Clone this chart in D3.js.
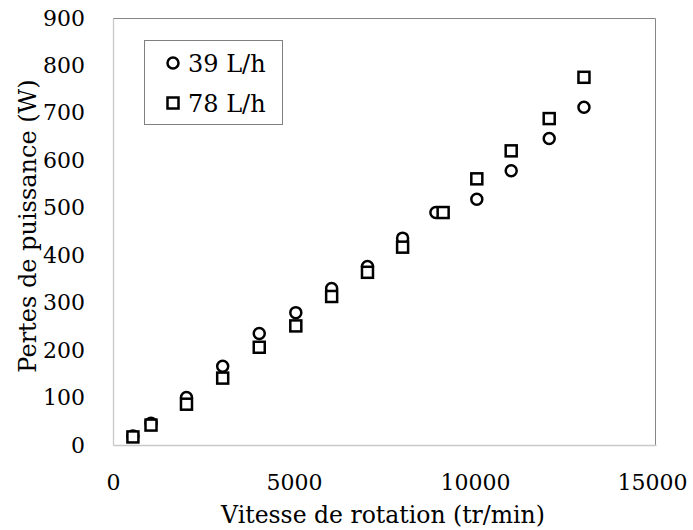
<!DOCTYPE html>
<html lang="fr">
  <head>
    <meta charset="utf-8">
    <script src="https://cdn.jsdelivr.net/npm/d3@7"></script>
    <style>
      body { margin: 0; background: #fff; }
      text { font-family: "DejaVu Serif", serif; fill: #000; }
    </style>
  </head>
  <body>
  <script>
    // valeurs
    var vitesse39 = [550, 1050, 2030, 3030, 4040, 5050, 6040, 7030, 8000, 8920, 10050, 11000, 12050, 13010];
    var pertes39  = [19, 46, 100, 166, 235, 279, 330, 376, 436, 490, 518, 578, 646, 712];
    var vitesse78 = [550, 1050, 2030, 3030, 4040, 5050, 6040, 7030, 8000, 9120, 10050, 11000, 12050, 13010];
    var pertes78  = [17, 42, 86, 141, 206, 251, 313, 364, 417, 490, 561, 620, 688, 775];
    var xTicks = [0, 5000, 10000, 15000];
    var yTicks = [0, 100, 200, 300, 400, 500, 600, 700, 800, 900];
    var seriesNames = ["39 L/h", "78 L/h"];

    var W = 693, H = 530;
    var margin = {top: 18, right: 37, bottom: 85, left: 113};
    var width = W - margin.left - margin.right,
        height = H - margin.top - margin.bottom;

    var svg = d3.select("body").append("svg")
      .attr("width", W).attr("height", H);
    var g = svg.append("g")
      .attr("transform", "translate(" + margin.left + "," + margin.top + ")");

    var x = d3.scaleLinear().domain([0, 15000]).range([0, width]);
    var y = d3.scaleLinear().domain([0, 900]).range([height, 0]);

    // cadre (haut et droite)
    g.append("path")
      .attr("d", "M0,0.5H" + (width - 0.5) + "V" + height)
      .attr("fill", "none").attr("stroke", "#868686").attr("stroke-width", 1);

    var xAxis = g.append("g")
      .attr("transform", "translate(0," + height + ")")
      .call(d3.axisBottom(x).tickValues(xTicks).tickSize(0).tickPadding(29).tickFormat(d3.format("d")));
    var yAxis = g.append("g")
      .call(d3.axisLeft(y).tickValues(yTicks).tickSize(0).tickPadding(28));

    [xAxis, yAxis].forEach(function(a){
      a.select(".domain").attr("stroke", "#c8c8c8").attr("stroke-width", 1.3);
      a.selectAll("text").style("font-size", "22px").attr("fill", "#000")
        .style("font-family", "'DejaVu Serif', serif");
    });
    xAxis.selectAll(".tick").filter(function(d){ return d == 15000; })
      .select("text").attr("dx", -4);

    // points 39 L/h
    g.append("g").selectAll("circle")
      .data(vitesse39).enter().append("circle")
      .attr("cx", function(d){ return x(d); })
      .attr("cy", function(d, i){ return y(pertes39[i]); })
      .attr("r", 5.5)
      .attr("fill", "none").attr("stroke", "#000").attr("stroke-width", 2.5);

    // points 78 L/h
    var s = 11;
    g.append("g").selectAll("rect")
      .data(vitesse78).enter().append("rect")
      .attr("x", function(d){ return x(d) - s/2; })
      .attr("y", function(d, i){ return y(pertes78[i]) - s/2; })
      .attr("width", s).attr("height", s)
      .attr("fill", "#fff").attr("stroke", "#000").attr("stroke-width", 2.5);

    // légende
    var leg = svg.append("g");
    leg.append("rect").attr("x", 144.5).attr("y", 40.5).attr("width", 138).attr("height", 84)
      .attr("fill", "#fff").attr("stroke", "#7f7f7f").attr("stroke-width", 1);
    leg.append("circle").attr("cx", 173).attr("cy", 63).attr("r", 5.5)
      .attr("fill", "none").attr("stroke", "#000").attr("stroke-width", 2.5);
    leg.append("rect").attr("x", 173 - s/2).attr("y", 103 - s/2).attr("width", s).attr("height", s)
      .attr("fill", "#fff").attr("stroke", "#000").attr("stroke-width", 2.5);
    leg.selectAll("text.lg").data(seriesNames).enter().append("text")
      .attr("x", 188).attr("y", function(d, i){ return 63 + i * 40; })
      .attr("dy", "0.36em").style("font-size", "24px")
      .text(function(d){ return d; });

    // titres des axes
    svg.append("text")
      .attr("x", 383).attr("y", 515)
      .attr("dy", "0.36em").attr("text-anchor", "middle")
      .style("font-size", "23.5px")
      .text("Vitesse de rotation (tr/min)");
    svg.append("text")
      .attr("transform", "translate(27,226) rotate(-90)")
      .attr("dy", "0.36em").attr("text-anchor", "middle")
      .style("font-size", "24px")
      .text("Pertes de puissance (W)");
  </script>
  </body>
</html>
